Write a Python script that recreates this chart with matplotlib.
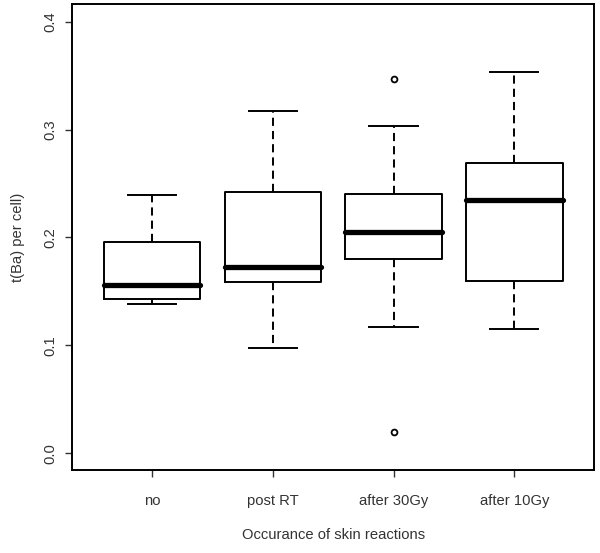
import matplotlib
matplotlib.use("Agg")
import matplotlib.pyplot as plt

plt.rcParams['font.family'] = ['Liberation Sans', 'DejaVu Sans']

categories = ['no', 'post RT', 'after 30Gy', 'after 10Gy']
whisker_low = [0.138, 0.098, 0.117, 0.115]
q1 = [0.143, 0.159, 0.180, 0.160]
median = [0.156, 0.173, 0.205, 0.235]
q3 = [0.196, 0.242, 0.240, 0.269]
whisker_high = [0.239, 0.317, 0.303, 0.353]
outliers = [[], [], [0.347, 0.020], []]
yticks = [0.0, 0.1, 0.2, 0.3, 0.4]

stats = []
for i, c in enumerate(categories):
    stats.append(dict(label=c, whislo=whisker_low[i], q1=q1[i], med=median[i],
                      q3=q3[i], whishi=whisker_high[i], fliers=outliers[i]))

fig = plt.figure(figsize=(6.0, 5.53), dpi=100)
ax = fig.add_axes([0.1208, 0.1492, 0.99 - 0.1208, 0.9919 - 0.1492])

lw = 1.4
positions = list(range(1, len(categories) + 1))
ax.bxp(stats, positions=positions, widths=0.8, showfliers=True,
       boxprops=dict(color='black', linewidth=lw),
       medianprops=dict(color='black', linewidth=3.8, solid_capstyle='round'),
       whiskerprops=dict(color='black', linewidth=lw, linestyle=(0, (4.2, 2.6))),
       capprops=dict(color='black', linewidth=lw),
       capwidths=0.4,
       flierprops=dict(marker='o', markerfacecolor='none', markeredgecolor='black',
                       markersize=4.2, markeredgewidth=1.3, linestyle='none'))

n = len(categories)
ax.set_xlim(0.5 - 0.04 * n, n + 0.5 + 0.04 * n)
ax.set_ylim(-0.016, 0.416)
ax.set_xticks(positions)
ax.set_xticklabels(categories)
ax.set_yticks(yticks)
ax.set_yticklabels([f"{v:.1f}" for v in yticks], rotation=90, va='center')

txtc = '#333333'
fs = 10.6
ax.tick_params(axis='both', direction='out', length=5, width=1.0, color='#333333',
               labelsize=fs, labelcolor=txtc)
ax.tick_params(axis='x', pad=12)
ax.tick_params(axis='y', pad=6)
for s in ax.spines.values():
    s.set_linewidth(1.4)
    s.set_color('black')

ax.set_xlabel('Occurance of skin reactions', fontsize=fs, color=txtc, labelpad=14)
ax.set_ylabel('t(Ba) per cell)', fontsize=fs, color=txtc, labelpad=13)

fig.savefig('out.png', dpi=100)
